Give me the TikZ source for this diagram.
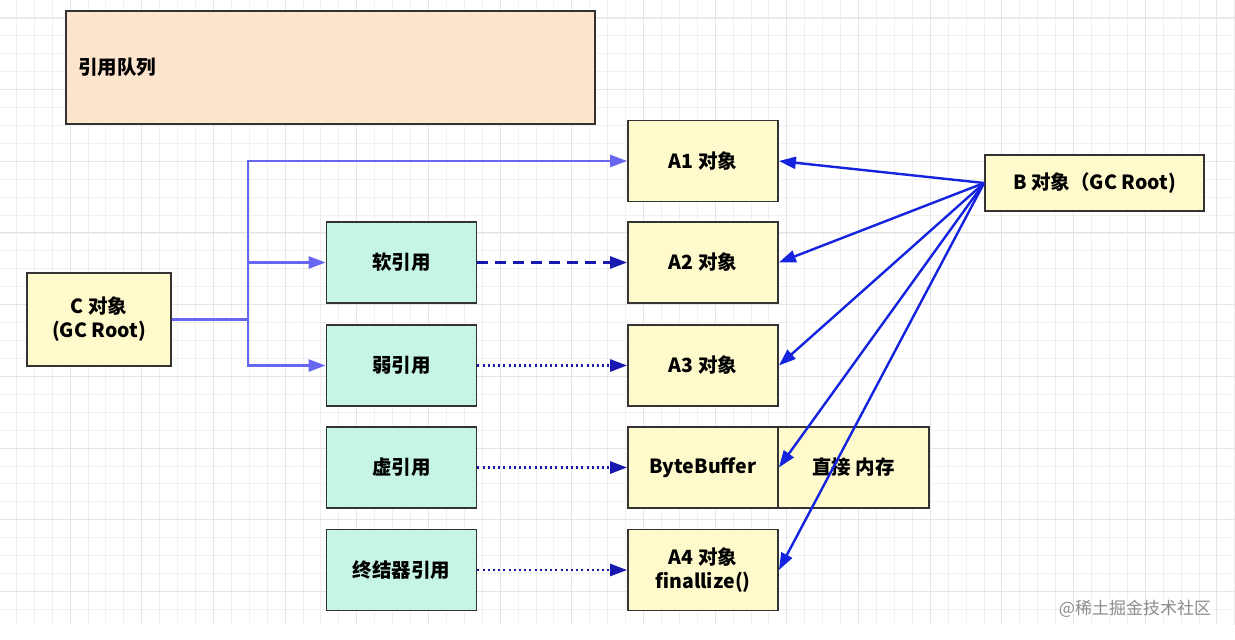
\documentclass[tikz,border=0pt]{standalone}
\usepackage{fontspec}
\setmainfont{Noto Sans CJK SC}
\usetikzlibrary{arrows.meta}

\definecolor{objfill}{RGB}{255,250,204}
\definecolor{reffill}{RGB}{198,245,227}
\definecolor{queuefill}{RGB}{253,228,204}
\definecolor{boxline}{RGB}{51,51,51}
\definecolor{clink}{RGB}{102,102,240}
\definecolor{blink}{RGB}{20,36,222}
\definecolor{reflink}{RGB}{24,24,176}

\tikzset{
  box/.style={draw=boxline, line width=1.8pt, minimum width=150pt, minimum height=81pt,
    inner sep=2pt, align=center, font=\fontsize{19.5}{24}\selectfont\bfseries},
  obj/.style={box, fill=objfill},
  refbox/.style={box, fill=reffill},
  tip/.style={-{Triangle[length=17pt,width=12pt]}},
  clinkline/.style={draw=clink, line width=2.4pt},
  blinkline/.style={tip, draw=blink, line width=2.4pt},
  softline/.style={tip, draw=reflink, line width=2.6pt, dash pattern=on 11pt off 7pt},
  weakline/.style={tip, draw=reflink, line width=2.6pt, dash pattern=on 2pt off 3.2pt},
}

\begin{document}
\begin{tikzpicture}[x=1pt,y=-1pt]
        \useasboundingbox (0,0) rectangle (1235,640);
        \fill[white] (0,0) rectangle (1235,640);

        % grid
        \foreach \i in {0,...,68}
          \draw[black!6, line width=0.8pt] ({16.24+17.92*\i},0) -- ({16.24+17.92*\i},625);
        \foreach \i in {1,...,34}
          \draw[black!6, line width=0.8pt] (0,{17.92*\i}) -- (1235,{17.92*\i});
        \foreach \i in {0,...,16}
          \draw[black!10, line width=1pt] ({70+71.68*\i},0) -- ({70+71.68*\i},625);
        \foreach \i in {0,...,8}
          \draw[black!10, line width=1pt] (0,{17.92+71.68*\i}) -- (1235,{17.92+71.68*\i});

        \node[box, fill=queuefill, minimum width=529pt, minimum height=113pt,
              text width=505pt, align=left] (queue) at (330.5,67.5) {\raisebox{-4pt}{引用队列}};

        \node[obj] (C) at (99,319.5) [minimum width=144pt, minimum height=93pt] {C 对象\\(GC Root)};
        \node[obj] (B) at (1094.5,183) [minimum width=219pt, minimum height=56pt] {B 对象（GC Root)};

        \node[obj] (A1) at (703,161) {A1 对象};
        \node[obj] (A2) at (703,262.5) {A2 对象};
        \node[obj] (A3) at (703,365.5) {A3 对象};
        \node[obj] (BB) at (703,467.5) {ByteBuffer};
        \node[obj] (mem) at (853.5,467.5) [minimum width=151pt] {直接 内存};
        \node[obj] (A4) at (703,570) {A4 对象\\finallize()};

        \node[refbox] (soft) at (401.5,262.5) {软引用};
        \node[refbox] (weak) at (401.5,365.5) {弱引用};
        \node[refbox] (phantom) at (401.5,467.5) {虚引用};
        \node[refbox] (final) at (401.5,570) {终结器引用};

        \coordinate (split) at (248,319.5);
        \draw[clinkline] (C.east) -- (split);
        \draw[clinkline, tip] (split) |- (A1);
        \draw[clinkline, tip] (split) |- (soft);
        \draw[clinkline, tip] (split) |- (weak);

        \draw[softline] (soft) -- (A2);
        \draw[weakline] (weak) -- (A3);
        \draw[weakline] (phantom) -- (BB);
        \draw[weakline] (final) -- (A4);

        \draw[blinkline] (B.west) -- (A1.east);
        \draw[blinkline] (B.west) -- (A2.east);
        \draw[blinkline] (B.west) -- (A3.east);
        \draw[blinkline] (B.west) -- (BB.east);
        \draw[blinkline] (B.west) -- (A4.east);

        \node[text=black!45, font=\fontsize{17}{20}\selectfont] (mark) at (1135,609) {@稀土掘金技术社区};
      \end{tikzpicture}
\end{document}
